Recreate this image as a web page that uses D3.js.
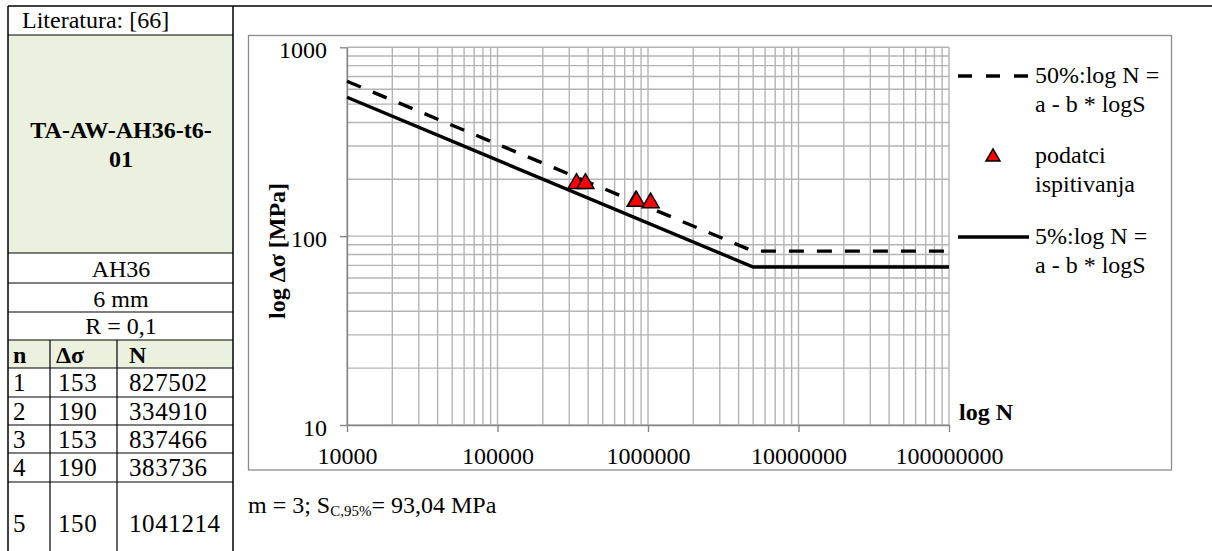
<!DOCTYPE html>
<html><head><meta charset="utf-8">
<script src="https://cdn.jsdelivr.net/npm/d3@7"></script>
<style>
html,body{margin:0;padding:0;background:#fff;}
svg text{font-family:"Liberation Serif","Times New Roman",serif;fill:#000;}
</style></head>
<body><svg id="c" width="1212" height="551"></svg>
<script>
// ---- data ----
const refText = "Literatura: [66]";
const specimen = ["TA-AW-AH36-t6-", "01"];
const infoRows = ["AH36", "6 mm", "R = 0,1"];
const headers = ["n", "Δσ", "N"];
const sampleNo = [1, 2, 3, 4, 5];
const stressRange = [153, 190, 153, 190, 150];
const cycles = [827502, 334910, 837466, 383736, 1041214];
const xTickValues = [1e4, 1e5, 1e6, 1e7, 1e8];
const yTickValues = [10, 100, 1000];
const line50N = [1e4, 5e6, 1e8];
const line50S = [661, 83.3, 83.3];
const line5N = [1e4, 5e6, 1e8];
const line5S = [544, 68.6, 68.6];
const legendLabels = [["50%:log N =", "a - b * logS"], ["podatci", "ispitivanja"], ["5%:log N =", "a - b * logS"]];

const svg = d3.select("#c");
const FS = 24;
const green = "#ebf1de";

// ---- left table ----
const T = svg.append("g");
const tl = 8, tr = 233, c1 = 50, c2 = 117;
const rowsY = [6, 35, 253, 283, 312, 340, 368, 397, 425, 453, 482, 560];
T.append("rect").attr("x", tl).attr("y", rowsY[1]).attr("width", tr - tl).attr("height", rowsY[2] - rowsY[1]).attr("fill", green);
T.append("rect").attr("x", tl).attr("y", rowsY[5]).attr("width", tr - tl).attr("height", rowsY[6] - rowsY[5]).attr("fill", green);
T.selectAll("line.h").data(rowsY.slice(1, 11)).join("line")
  .attr("x1", tl).attr("x2", tr).attr("y1", d => d).attr("y2", d => d)
  .attr("stroke", "#000").attr("stroke-width", 1.2);
T.append("line").attr("x1", tl).attr("x2", 1212).attr("y1", rowsY[0]).attr("y2", rowsY[0]).attr("stroke", "#000").attr("stroke-width", 1.5);
[tl, tr].forEach(x => T.append("line").attr("x1", x).attr("x2", x).attr("y1", rowsY[0]).attr("y2", 551).attr("stroke", "#000").attr("stroke-width", 1.5));
[c1, c2].forEach(x => T.append("line").attr("x1", x).attr("x2", x).attr("y1", rowsY[5]).attr("y2", 551).attr("stroke", "#000").attr("stroke-width", 1.2));

T.append("text").attr("x", 22).attr("y", 28).attr("font-size", FS).text(refText);
specimen.forEach((s, i) => T.append("text").attr("x", 121).attr("y", 138 + i * 29).attr("text-anchor", "middle")
  .attr("font-size", FS).attr("font-weight", "bold").text(s));
infoRows.forEach((s, i) => T.append("text").attr("x", 121).attr("y", rowsY[i + 2] + 24 - (i===2?2:0)).attr("text-anchor", "middle")
  .attr("font-size", FS).text(s));
const colX = [13, 56, 129];
headers.forEach((h, i) => T.append("text").attr("x", colX[i]).attr("y", rowsY[5] + 23).attr("font-size", FS).attr("font-weight", "bold").text(h));
sampleNo.forEach((n, r) => {
  const base = r < 4 ? rowsY[6 + r] + 23 : 532;
  [n, stressRange[r], cycles[r]].forEach((v, i) =>
    T.append("text").attr("x", colX[i] + (i === 1 ? 2 : 0)).attr("y", base).attr("font-size", 25)
      .attr("letter-spacing", i === 0 ? 0 : 0.6).text(v));
});

// ---- chart ----
svg.append("rect").attr("x", 248.5).attr("y", 35.5).attr("width", 923).attr("height", 434.5)
  .attr("fill", "none").attr("stroke", "#8c8c8c").attr("stroke-width", 1.3);

const x = d3.scaleLog().domain([1e4, 1e8]).range([347, 949]);
const y = d3.scaleLog().domain([10, 1000]).range([425, 47.3]);

const grid = svg.append("g");
grid.selectAll("line.gy").data(y.ticks()).join("line")
  .attr("x1", x.range()[0]).attr("x2", x.range()[1]).attr("y1", d => y(d)).attr("y2", d => y(d))
  .attr("stroke", "#b4b4b4").attr("stroke-width", 1.4);
grid.selectAll("line.gx").data(x.ticks()).join("line")
  .attr("y1", y.range()[0]).attr("y2", y.range()[1]).attr("x1", d => x(d)).attr("x2", d => x(d))
  .attr("stroke", "#b4b4b4").attr("stroke-width", 1.4);

const xAxis = svg.append("g").attr("transform", "translate(0,425)")
  .call(d3.axisBottom(x).tickValues(xTickValues).tickFormat(d3.format("d")).tickSize(7).tickSizeOuter(0).tickPadding(15));
const yAxis = svg.append("g").attr("transform", "translate(347,0)")
  .call(d3.axisLeft(y).tickValues(yTickValues).tickFormat(d3.format("d")).tickSize(7).tickSizeOuter(0).tickPadding(13));
[xAxis, yAxis].forEach(a => {
  a.select(".domain").attr("stroke", "#868686").attr("stroke-width", 1.4);
  a.selectAll(".tick line").attr("stroke", "#868686").attr("stroke-width", 1.4);
  a.selectAll("text").attr("font-size", FS).attr("font-family", "Liberation Serif").attr("fill", "#000");
});
yAxis.selectAll("text").attr("dy", "0.42em");

// lines
const lineGen = d3.line().x(d => x(d[0])).y(d => y(d[1]));
const pts50 = line50N.map((n, i) => [n, line50S[i]]);
const pts5 = line5N.map((n, i) => [n, line5S[i]]);
svg.append("path").attr("d", lineGen(pts50)).attr("fill", "none").attr("stroke", "#000")
  .attr("stroke-width", 3.4).attr("stroke-dasharray", "15,13");
svg.append("path").attr("d", lineGen(pts5)).attr("fill", "none").attr("stroke", "#000").attr("stroke-width", 3.4);

// points
const tri = d3.symbol().type(d3.symbolTriangle).size(125);
svg.selectAll("path.pt").data(cycles.map((c, i) => [c, stressRange[i]])).join("path")
  .attr("d", tri).attr("transform", d => `translate(${x(d[0])},${y(d[1])})`)
  .attr("fill", "#ff0000").attr("stroke", "#000").attr("stroke-width", 1.5);

// axis titles
svg.append("text").attr("transform", "translate(285,251) rotate(-90)").attr("text-anchor", "middle")
  .attr("font-size", FS).attr("font-weight", "bold").text("log Δσ [MPa]");
svg.append("text").attr("x", 959).attr("y", 420).attr("font-size", FS).attr("font-weight", "bold").text("log N");

// legend
const L = svg.append("g");
L.append("line").attr("x1", 958).attr("x2", 1029).attr("y1", 76).attr("y2", 76)
  .attr("stroke", "#000").attr("stroke-width", 3.4).attr("stroke-dasharray", "14,14");
L.append("path").attr("d", d3.symbol().type(d3.symbolTriangle).size(85)).attr("transform", "translate(993,157)")
  .attr("fill", "#ff0000").attr("stroke", "#000").attr("stroke-width", 1.5);
L.append("line").attr("x1", 958).attr("x2", 1029).attr("y1", 237).attr("y2", 237)
  .attr("stroke", "#000").attr("stroke-width", 3.4);
const legBase = [83, 163, 244];
legendLabels.forEach((lab, i) => lab.forEach((t, j) =>
  L.append("text").attr("x", 1035).attr("y", legBase[i] + j * 29).attr("font-size", FS).text(t)));

// footnote
const fn = svg.append("text").attr("x", 248).attr("y", 513).attr("font-size", 24);
fn.append("tspan").text("m = 3; S");
fn.append("tspan").attr("font-size", 15).attr("dy", 3).text("C,95%");
fn.append("tspan").attr("dy", -3).text("= 93,04 MPa");
</script>
</body></html>
